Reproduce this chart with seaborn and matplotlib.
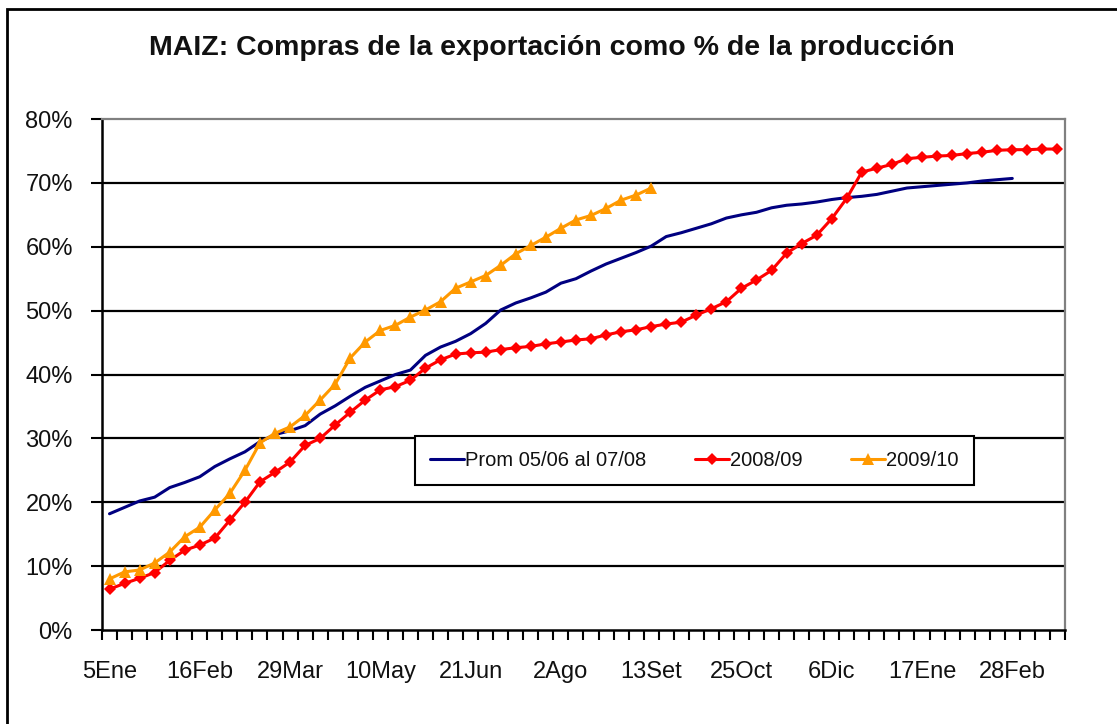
import numpy as np
import pandas as pd
import matplotlib
matplotlib.use('Agg')
import matplotlib.pyplot as plt
from matplotlib.patches import Rectangle
import seaborn as sns

#%% data (weekly, % of production)

week_labels = ['5Ene', '16Feb', '29Mar', '10May', '21Jun', '2Ago',
               '13Set', '25Oct', '6Dic', '17Ene', '28Feb']

prom = [18.2, 19.2, 20.2, 20.8, 22.3, 23.1, 24.0, 25.6, 26.8, 27.9,
        29.5, 30.6, 31.2, 32.0, 33.8, 35.1, 36.6, 38.0, 39.0, 40.0,
        40.7, 43.0, 44.3, 45.2, 46.4, 48.0, 50.1, 51.2, 52.0, 52.9,
        54.3, 55.0, 56.2, 57.3, 58.2, 59.1, 60.1, 61.6, 62.2, 62.9,
        63.6, 64.5, 65.0, 65.4, 66.1, 66.5, 66.7, 67.0, 67.4, 67.7,
        67.9, 68.2, 68.7, 69.2, 69.4, 69.6, 69.8, 70.0, 70.3, 70.5,
        70.7]

c0809 = [6.4, 7.3, 8.1, 9.0, 10.9, 12.5, 13.3, 14.4, 17.2, 20.0,
         23.2, 24.7, 26.3, 28.9, 30.0, 32.1, 34.1, 36.0, 37.6, 38.1,
         39.1, 41.0, 42.3, 43.2, 43.4, 43.5, 43.9, 44.2, 44.4, 44.8,
         45.1, 45.4, 45.6, 46.2, 46.7, 47.0, 47.5, 47.9, 48.2, 49.3,
         50.3, 51.4, 53.5, 54.8, 56.3, 59.0, 60.5, 61.8, 64.4, 67.6,
         71.7, 72.3, 72.9, 73.8, 74.0, 74.2, 74.3, 74.6, 74.8, 75.1,
         75.2, 75.2, 75.3, 75.3]

c0910 = [8.0, 9.1, 9.4, 10.5, 12.2, 14.6, 16.1, 18.8, 21.4, 25.0,
         29.3, 30.8, 31.8, 33.6, 36.0, 38.5, 42.6, 45.1, 46.9, 47.7,
         49.0, 50.1, 51.4, 53.5, 54.5, 55.5, 57.1, 58.9, 60.2, 61.5,
         62.9, 64.2, 64.9, 66.0, 67.3, 68.1, 69.2]

n_weeks = len(c0809)

df_prom = pd.DataFrame({'semana': range(len(prom)), 'pct': prom})
df_0809 = pd.DataFrame({'semana': range(len(c0809)), 'pct': c0809})
df_0910 = pd.DataFrame({'semana': range(len(c0910)), 'pct': c0910})

#%% plot

sns.set_style('white')
plt.rcParams['font.family'] = ['Liberation Sans', 'DejaVu Sans']
plt.rcParams['text.color'] = '#111111'
plt.rcParams['xtick.labelcolor'] = '#111111'
plt.rcParams['ytick.labelcolor'] = '#111111'

fig = plt.figure(figsize=(11.17, 7.24), dpi=100)
ax = fig.add_axes([0.0913, 0.1298, 0.8621, 0.7058])

sns.lineplot(data=df_prom, x='semana', y='pct', ax=ax, color='#000080',
             linewidth=2.2, label='Prom 05/06 al 07/08')
sns.lineplot(data=df_0809, x='semana', y='pct', ax=ax, color='#FF0000',
             linewidth=2.2, marker='D', markersize=6, markeredgewidth=0,
             label='2008/09')
sns.lineplot(data=df_0910, x='semana', y='pct', ax=ax, color='#FF9900',
             linewidth=2.2, marker='^', markersize=8, markeredgewidth=0,
             label='2009/10')

ax.set_xlim(-0.5, n_weeks - 0.5)
ax.set_ylim(0, 80)
ax.set_yticks(range(0, 81, 10))
ax.set_yticklabels([f'{v}%' for v in range(0, 81, 10)])
ax.set_xticks(range(0, 6 * len(week_labels), 6))
ax.set_xticklabels(week_labels)
ax.set_xticks(np.arange(-0.5, n_weeks, 1), minor=True)
ax.tick_params(axis='x', which='major', length=0, pad=22, labelsize=17)
ax.tick_params(axis='x', which='minor', length=7, width=1.5, color='black',
               direction='out', bottom=True)
ax.tick_params(axis='y', which='major', length=8, width=1.5, color='black',
               direction='out', left=True, pad=13, labelsize=17)
ax.set_xlabel('')
ax.set_ylabel('')

for v in range(10, 80, 10):
    ax.axhline(v, color='black', linewidth=1.6, zorder=0.5)

for s in ['left', 'bottom']:
    ax.spines[s].set_color('black')
    ax.spines[s].set_linewidth(1.8)
for s in ['top', 'right']:
    ax.spines[s].set_color('#808080')
    ax.spines[s].set_linewidth(1.6)

leg = ax.legend(loc='center', bbox_to_anchor=(0.615, 0.331), ncol=3,
                frameon=True, fancybox=False, fontsize=14.5, handlelength=1.7,
                handletextpad=0.05, columnspacing=2.4, borderpad=0.75)
leg.get_frame().set_edgecolor('black')
leg.get_frame().set_linewidth(1.5)
leg.get_frame().set_facecolor('white')
leg.get_frame().set_alpha(1)

fig.text(0.494, 0.934, 'MAIZ: Compras de la exportación como % de la producción',
         ha='center', va='center', fontsize=20.5, fontweight='bold')

fig.patches.append(Rectangle((0.0063, -0.1), 1.2, 1.0876, transform=fig.transFigure,
                             fill=False, edgecolor='black', linewidth=2))

fig.savefig('out.png', dpi=100)
